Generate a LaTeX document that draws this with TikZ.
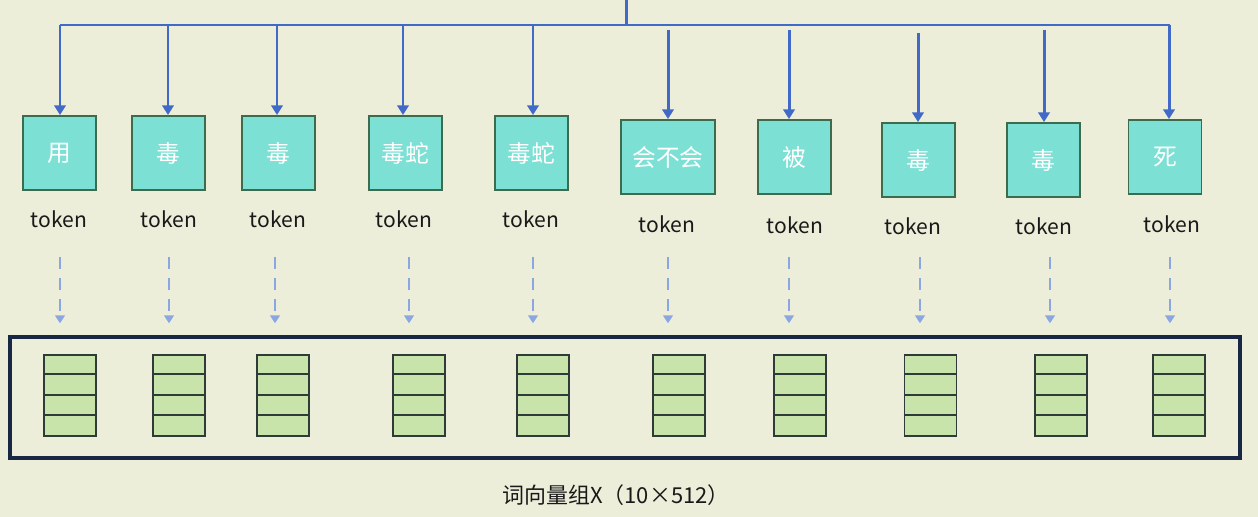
\documentclass[tikz,border=0pt]{standalone}
\usepackage{fontspec}
\setmainfont{Noto Sans CJK SC}
\usetikzlibrary{arrows.meta}

\definecolor{bgbeige}{HTML}{EDEEDA}
\definecolor{busblue}{HTML}{4169C8}
\definecolor{dashblue}{HTML}{8AA7E2}
\definecolor{tokfill}{HTML}{7DE0D4}
\definecolor{tokline}{HTML}{3D6B4E}
\definecolor{vecfill}{HTML}{C9E4AA}
\definecolor{vecline}{HTML}{2E3B38}
\definecolor{framenavy}{HTML}{182743}

\begin{document}
\begin{tikzpicture}[x=0.02cm,y=-0.02cm,
    bus/.style={busblue, line width=1.7pt},
    busarrow/.style={bus, -{Triangle[length=5.5pt,width=6.5pt]}},
    dasharrow/.style={dashblue, line width=1.4pt, dash pattern=on 6.8pt off 5.1pt,
        -{Triangle[length=4.5pt,width=5.5pt]}},
    tokbox/.style={draw=tokline, line width=1.1pt, fill=tokfill, text=white,
        minimum height=1.48cm, inner sep=0pt, font=\fontsize{13.5}{15}\selectfont},
    toklabel/.style={text=black!90, font=\fontsize{12}{14}\selectfont},
    vecbox/.style={draw=vecline, line width=1pt, fill=vecfill,
        minimum width=1.04cm, minimum height=1.62cm, inner sep=0pt},
    vecrow/.style={vecline, line width=1pt},
    framebox/.style={draw=framenavy, line width=2pt,
        minimum width=24.6cm, minimum height=2.42cm, inner sep=0pt},
    caption/.style={text=black!90, font=\fontsize{12.5}{15}\selectfont}]

    \fill[bgbeige] (0,0) rectangle (1258,517);
    \useasboundingbox (0,0) rectangle (1258,517);

    % token boxes
    \foreach \i/\cx/\cy/\w/\txt in {1/59.5/153/1.46/用, 2/168.5/153/1.46/毒,
            3/278.5/153/1.46/毒, 4/405.5/153/1.46/毒蛇, 5/531.5/153/1.46/毒蛇,
            6/668/157/1.88/会不会, 7/794.5/157/1.46/被, 8/918.5/160/1.46/毒,
            9/1043.5/160/1.46/毒, 10/1165/157/1.46/死}
        \node[tokbox, minimum width=\w cm] (t\i) at (\cx,\cy) {\txt};

    % bus on top
    \coordinate (top) at (626,0);
    \coordinate (busl) at (60,25);
    \coordinate (busr) at (1170,25);
    \draw[bus] (top) -- (top |- busl);
    \draw[bus] (busl) -- (busr);

    \foreach \i/\ax/\ay in {1/60/25, 2/168/25, 3/277/25, 4/403/25, 5/533/25,
            6/668/30, 7/789/30, 8/918/33, 9/1044/30, 10/1169/25} {
        \coordinate (a\i) at (\ax,\ay);
        \draw[busarrow] (a\i) -- (a\i |- t\i.north);
    }

    % token labels
    \foreach \i/\lx/\ly in {1/59/219, 2/169/219, 3/278/219, 4/404/219, 5/531/219,
            6/667/224, 7/795/225, 8/913/226, 9/1044/226, 10/1172/224}
        \node[toklabel] (l\i) at (\lx,\ly) {token};

    % word vectors
    \node[framebox] (frame) at (625,397.5) {};

    \foreach \i/\vx in {1/70, 2/179, 3/283, 4/419, 5/543, 6/679, 7/800,
            8/930.5, 9/1061, 10/1179} {
        \node[vecbox] (v\i) at (\vx,395.5) {};
        \foreach \r in {1,2,3}
            \draw[vecrow] ([yshift=-\r*0.405cm]v\i.north west) -- ([yshift=-\r*0.405cm]v\i.north east);
    }

    \foreach \i/\dx in {1/60, 2/169, 3/275, 4/409, 5/533, 6/668, 7/789,
            8/920, 9/1050, 10/1170} {
        \coordinate (d\i) at (\dx,257);
        \draw[dasharrow, shorten >=6.8pt] (d\i) -- (d\i |- frame.north);
    }

    \node[caption] (cap) at (616,495) {词向量组X（10×512）};
\end{tikzpicture}
\end{document}
